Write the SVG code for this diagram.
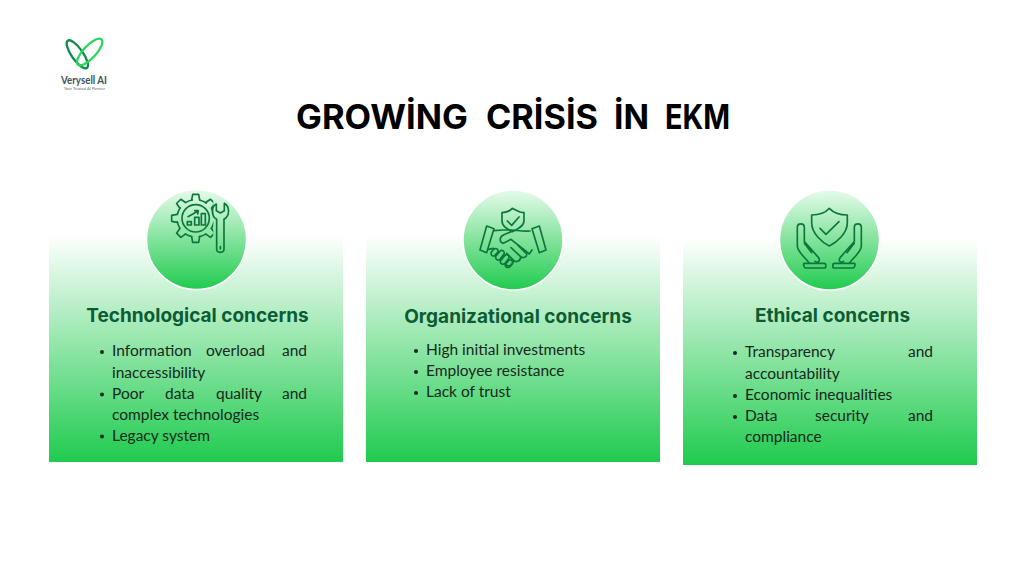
<svg xmlns="http://www.w3.org/2000/svg" width="1024" height="576" viewBox="0 0 1024 576">
<style>
.card{fill:url(#cardGrad)}
.disc{fill:url(#discGrad);stroke:#fff;stroke-width:1.5}
.ic{fill:none;stroke:#0c773c;stroke-width:5;stroke-linecap:round;stroke-linejoin:round}
.head{font-family:"Inter","Liberation Sans",sans-serif;font-weight:700;font-size:19px;fill:#0b5c34;text-anchor:middle}
.body{font-family:"Lato","Noto Sans",sans-serif;font-size:15.500px;fill:#17291d}
.title{font-family:"Inter","Liberation Sans",sans-serif;font-weight:700;font-size:34px;fill:#000}
.bullet{fill:#17291d}
</style>
<defs>
<linearGradient id="cardGrad" x1="0" y1="0" x2="0" y2="1"><stop offset="0" stop-color="#fff"/><stop offset="1" stop-color="#1fcb4e"/></linearGradient>
<linearGradient id="discGrad" x1="0" y1="0" x2="0" y2="1"><stop offset="0" stop-color="#e6fbea"/><stop offset="1" stop-color="#1fcb4e"/></linearGradient>
<path id="tooth" d="M-12-55-9-72H9L12-55"/>
<clipPath id="gearClip"><rect x="100" y="30" width="150" height="170"/></clipPath>
</defs>
<rect width="1024" height="576" fill="#fff"/>

<g id="logo">
<g transform="translate(40 20) scale(.3333)" fill="none" stroke-width="7">
<ellipse cx="112" cy="103" rx="50" ry="17" transform="rotate(55 112 103)" stroke="#0f8a4b"/>
<ellipse cx="149" cy="96" rx="52" ry="19" transform="rotate(-47 149 96)" stroke="#2ad65c"/>
</g>
<text x="61" y="84" font-family="Lato,'Liberation Sans',sans-serif" font-weight="700" font-size="10.500" fill="#3f5257" textLength="46" lengthAdjust="spacingAndGlyphs">Verysell AI</text>
<text x="64" y="90" font-family="Lato,'Liberation Sans',sans-serif" font-size="4" fill="#55666a" textLength="41" lengthAdjust="spacingAndGlyphs">Your Trusted AI Partner</text>
</g>

<g id="title"><text class="title" y="128.500"><tspan x="296" textLength="172" lengthAdjust="spacingAndGlyphs">GROWİNG</tspan><tspan x="486" textLength="112" lengthAdjust="spacingAndGlyphs">CRİSİS</tspan><tspan x="614" textLength="35" lengthAdjust="spacingAndGlyphs">İN</tspan><tspan x="665" textLength="65" lengthAdjust="spacingAndGlyphs">EKM</tspan></text></g>

<g id="card-technological">
<rect class="card" x="49" y="235" width="294" height="227"/>
<circle class="disc" cx="196.500" cy="239.500" r="50"/>
<g transform="translate(130 180) scale(.3333)" class="ic">
<g clip-path="url(#gearClip)">
<circle cx="197" cy="115" r="56" stroke-dasharray="20 23.98" stroke-dashoffset="-12"/>
<g transform="translate(197 115)">
<use href="#tooth"/><use href="#tooth" transform="rotate(45)"/><use href="#tooth" transform="rotate(90)"/><use href="#tooth" transform="rotate(135)"/><use href="#tooth" transform="rotate(180)"/><use href="#tooth" transform="rotate(225)"/><use href="#tooth" transform="rotate(270)"/><use href="#tooth" transform="rotate(315)"/>
</g>
</g>
<circle cx="197" cy="115" r="41"/>
<path d="M172 135V125H184V135ZM194 135V112H207V135ZM214 135V101H226V135Z"/>
<path d="M174 110 203 94M194 92 205 92 203 102"/>
<path d="M259 72C243 80 243 108 260 118V208C260 220 282 220 282 208V118C300 108 300 80 283 70V92L271 99 259 92Z"/>
<path d="M271 200V206"/>
</g>
<text class="head" x="197.500" y="322">Technological concerns</text>
<circle class="bullet" cx="102" cy="352" r="2"/><circle class="bullet" cx="102" cy="394.500" r="2"/><circle class="bullet" cx="102" cy="436.500" r="2"/>
<text class="body"><tspan x="112" y="356">Information</tspan><tspan x="206" y="356">overload</tspan><tspan x="282" y="356">and</tspan><tspan x="112" y="377.500">inaccessibility</tspan><tspan x="112" y="399">Poor</tspan><tspan x="165" y="399">data</tspan><tspan x="216" y="399">quality</tspan><tspan x="282" y="399">and</tspan><tspan x="112" y="420">complex technologies</tspan><tspan x="112" y="441">Legacy system</tspan></text>
</g>

<g id="card-organizational">
<rect class="card" x="366" y="235" width="294" height="227"/>
<circle class="disc" cx="513" cy="240" r="50"/>
<g transform="translate(450 180) scale(.3333)" class="ic">
<path d="M187 85 203 93C210 97 218 98 222 98V122C222 140 200 148 187 155C174 148 156 140 156 122V98C165 98 178 95 187 85Z"/>
<path d="M172 123 185 136 207 111"/>
<path d="M110 138 132 146 110 218 90 210ZM268 138 246 146 268 218 288 210Z"/>
<path d="M132 152 160 150 185 150C198 150 215 155 240 153"/>
<path d="M190 152 160 165C148 172 147 186 160 190L183 178 238 222 246 210"/>
<path d="M116 208 130 205M205 197 230 222C232 232 218 236 212 230L183 203M212 230C212 246 196 248 190 240L170 220M190 240C190 258 174 262 166 252"/>
<path d="M124 216 132 207C138 203 146 208 144 215L135 226C130 232 121 226 124 216ZM138 228 150 214C156 208 165 214 162 222L150 238C143 244 134 236 138 228ZM152 242 165 226C172 220 180 228 176 236L165 250C158 256 148 250 152 242ZM167 252 177 240C184 236 190 244 186 252L180 260C172 266 163 260 167 252Z"/>
</g>
<text class="head" x="518" y="323">Organizational concerns</text>
<circle class="bullet" cx="416" cy="351" r="2"/><circle class="bullet" cx="416" cy="372" r="2"/><circle class="bullet" cx="416" cy="393" r="2"/>
<text class="body"><tspan x="426" y="355">High initial investments</tspan><tspan x="426" y="376">Employee resistance</tspan><tspan x="426" y="397">Lack of trust</tspan></text>
</g>

<g id="card-ethical">
<rect class="card" x="683" y="238" width="294" height="227"/>
<circle class="disc" cx="829.500" cy="240" r="50"/>
<g transform="translate(765 180) scale(.3333)" class="ic">
<path d="M193 85C205 98 222 105 247 105V128C247 160 215 187 193 198C171 187 140 160 140 128V105C165 105 182 98 193 85Z"/>
<path d="M165 145 183 163 222 125"/>
<path d="M97 142C97 128 118 128 118 142V185L160 232C168 244 158 250 150 244M97 142V198C97 215 118 230 132 248M118 190 140 218"/>
<path d="M118 250H178C184 250 184 264 178 264H122C116 264 114 250 118 250Z"/>
<path d="M289 142C289 128 268 128 268 142V185L226 232C218 244 228 250 236 244M289 142V198C289 215 268 230 254 248M268 190 246 218"/>
<path d="M268 250H208C202 250 202 264 208 264H264C270 264 272 250 268 250Z"/>
</g>
<text class="head" x="832.500" y="322">Ethical concerns</text>
<circle class="bullet" cx="735" cy="353" r="2"/><circle class="bullet" cx="735" cy="396" r="2"/><circle class="bullet" cx="735" cy="417" r="2"/>
<text class="body"><tspan x="745" y="357">Transparency</tspan><tspan x="908" y="357">and</tspan><tspan x="745" y="378.500">accountability</tspan><tspan x="745" y="400">Economic inequalities</tspan><tspan x="745" y="421">Data</tspan><tspan x="815" y="421">security</tspan><tspan x="908" y="421">and</tspan><tspan x="745" y="442">compliance</tspan></text>
</g>
</svg>
